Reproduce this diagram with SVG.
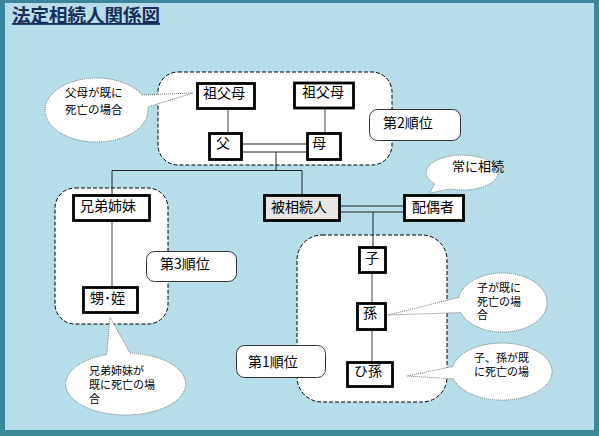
<svg xmlns="http://www.w3.org/2000/svg" width="599" height="436" viewBox="0 0 599 436">
<style>
text{font-family:"Noto Sans CJK JP","Noto Sans CJK SC",sans-serif;fill:#000}
.grp{fill:#fff;stroke:#000;stroke-width:1;stroke-dasharray:4 2}
.box{fill:#fff;stroke:#000;stroke-width:2.8}
.lbl{fill:#fff;stroke:#333;stroke-width:1}
.bt{font-size:14px}
.ct{font-size:11px}
.co{fill:#fff;stroke:#777;stroke-width:1;stroke-dasharray:1 1}
.ln{stroke:#222;stroke-width:1;fill:none}
.lg{stroke:#666;stroke-width:1.2;fill:none}
</style>
<rect x="0" y="0" width="599" height="436" fill="#3A8799"/>
<rect x="5" y="3" width="589" height="427" fill="#B7DDE8"/>
<text x="12" y="22" style="font-size:18.5px;font-weight:bold;fill:#1A2E5C;text-decoration:underline">法定相続人関係図</text>

<g id="group2"><rect class="grp" x="158" y="72" width="234" height="93" rx="20"/></g>
<g id="group3"><rect class="grp" x="55" y="188" width="113" height="136" rx="20"/></g>
<g id="group1"><rect class="grp" x="297" y="235" width="150" height="167" rx="25"/></g>

<g id="label2"><rect class="lbl" x="369.5" y="109.5" width="91" height="31" rx="8"/><text class="bt" x="383" y="128">第2順位</text></g>
<g id="label3"><rect class="lbl" x="146.5" y="251.5" width="90" height="30" rx="8"/><text class="bt" x="160" y="269">第3順位</text></g>
<g id="label1"><rect class="lbl" x="236.5" y="345.5" width="89" height="32" rx="8"/><text class="bt" x="248" y="367">第1順位</text></g>

<g id="connectors">
<line class="lg" x1="228" y1="110" x2="228" y2="132"/>
<line class="lg" x1="325" y1="108" x2="325" y2="132"/>
<line class="ln" x1="243" y1="144" x2="306" y2="144"/>
<line class="ln" x1="243" y1="152" x2="306" y2="152"/>
<line class="ln" x1="276" y1="152" x2="276" y2="170.5"/>
<polyline class="ln" points="112,194 112,170.5 302,170.5 302,194"/>
<line class="lg" x1="112" y1="222" x2="112" y2="286"/>
<line class="ln" x1="341" y1="206" x2="403" y2="206"/>
<line class="ln" x1="341" y1="212" x2="403" y2="212"/>
<line class="ln" x1="373" y1="212" x2="373" y2="246"/>
<line class="lg" x1="372" y1="274" x2="372" y2="302"/>
<line class="lg" x1="372" y1="331" x2="372" y2="361"/>
</g>

<g id="sofubo1"><rect class="box" x="197.5" y="83.5" width="57" height="25"/><text class="bt" x="203" y="98">祖父母</text></g>
<g id="sofubo2"><rect class="box" x="294.5" y="83" width="59" height="25"/><text class="bt" x="302" y="97">祖父母</text></g>
<g id="chichi"><rect class="box" x="209.5" y="133.5" width="32" height="26"/><text class="bt" x="216" y="148">父</text></g>
<g id="haha"><rect class="box" x="307.5" y="133.5" width="33" height="26"/><text class="bt" x="312" y="148">母</text></g>
<g id="kyodai"><rect class="box" x="73.5" y="195.5" width="76" height="25"/><text class="bt" x="80" y="211">兄弟姉妹</text></g>
<g id="oimei"><rect class="box" x="83.5" y="287.5" width="54" height="25"/><text class="bt" x="90" y="303">甥･姪</text></g>
<g id="hisouzokunin"><rect class="box" x="264.5" y="195.5" width="75" height="25" style="fill:#E6E6E6"/><text class="bt" x="271" y="212">被相続人</text></g>
<g id="haigusha"><rect class="box" x="404.5" y="195.5" width="59" height="25"/><text class="bt" x="412" y="212">配偶者</text></g>
<g id="ko"><rect class="box" x="359.5" y="247.5" width="26" height="25"/><text class="bt" x="365" y="263">子</text></g>
<g id="mago"><rect class="box" x="357.5" y="303.5" width="28" height="26"/><text class="bt" x="363" y="318">孫</text></g>
<g id="himago"><rect class="box" x="347.5" y="362.5" width="45" height="24"/><text class="bt" x="354" y="376">ひ孫</text></g>

<g id="callout-fubo"><path class="co" d="M142,95 L193,93 L147.8,107 A51.5 32 0 1 1 142,95 Z"/><text class="ct" style="font-size:11.5px" x="65" y="97">父母が既に</text><text class="ct" style="font-size:11.5px" x="65" y="114">死亡の場合</text></g>
<g id="callout-haigusha"><path class="co" d="M434.4,183.7 L430,193 L449.7,189 A36 17.5 0 1 0 434.4,183.7 Z"/><text class="ct" style="font-size:13px" x="452" y="171">常に相続</text></g>
<g id="callout-ko"><path class="co" d="M458.7,297.4 A44.5 29.5 0 1 1 460.7,312.6 L388,315 Z"/><text class="ct" x="477" y="292">子が既に</text><text class="ct" x="477" y="306">死亡の場</text><text class="ct" x="477" y="319">合</text></g>
<g id="callout-mago"><path class="co" d="M452.8,366.5 A50 28.5 0 1 1 453.7,378.9 L407,376 Z"/><text class="ct" x="474" y="362">子、孫が既</text><text class="ct" x="474" y="376">に死亡の場</text></g>
<g id="callout-kyodai"><path class="co" d="M130,353.1 A60 31 0 1 1 106.7,354.6 L110,317 Z"/><text class="ct" x="89" y="375">兄弟姉妹が</text><text class="ct" x="89" y="389">既に死亡の場</text><text class="ct" x="89" y="403">合</text></g>
</svg>
